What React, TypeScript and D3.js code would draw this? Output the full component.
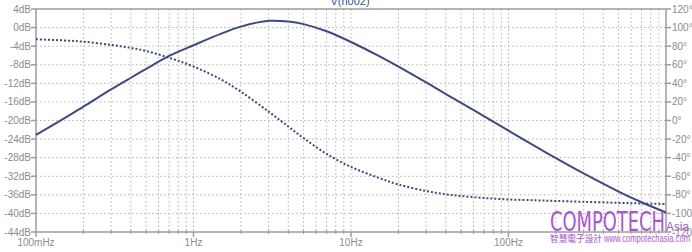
import React from "react";
import * as d3 from "d3";

const freqs = [0.1, 0.15, 0.2, 0.3, 0.4, 0.5, 0.7, 1, 1.5, 2, 3, 4, 5, 7, 10, 15, 20, 30, 40, 50, 70, 100, 150, 200, 300, 500, 700, 1000];
const magDb = [-23.1, -19.6, -17.0, -13.3, -10.8, -8.9, -6.1, -3.8, -1.3, 0.2, 1.45, 1.3, 0.75, -0.8, -3.1, -6.1, -8.4, -11.8, -14.3, -16.2, -19.1, -22.2, -25.7, -28.1, -31.4, -35.3, -37.6, -39.8];
const phaseDeg = [87.4, 86.2, 84.8, 81.4, 78.1, 74.8, 67.5, 58.1, 44.0, 31.0, 9.5, -6.5, -19.0, -36.0, -50.0, -61.7, -68.9, -75.9, -79.4, -81.2, -83.4, -85.0, -85.9, -86.6, -87.5, -88.6, -89.3, -89.9];

const dbTicks = [4, 0, -4, -8, -12, -16, -20, -24, -28, -32, -36, -40, -44];
const degTicks = [120, 100, 80, 60, 40, 20, 0, -20, -40, -60, -80, -100, -120];
const decadeTicks = [0.1, 1, 10, 100];
const decadeLabels = ["100mHz", "1Hz", "10Hz", "100Hz"];
const title = "V(n002)";

export default function App() {
  const W = 692, H = 252;
  const x0 = 36, x1 = 666, yTop = 9, yBot = 232;
  const x = d3.scaleLog().domain([0.1, 1000]).range([x0, x1]);
  const yL = d3.scaleLinear().domain([-44, 4]).range([yBot, yTop]);
  const yR = d3.scaleLinear().domain([-120, 120]).range([yBot, yTop]);

  const magLine = d3.line<number>().x((_, i) => x(freqs[i])).y((d) => yL(d)).curve(d3.curveCatmullRom.alpha(0.5));
  const phLine = d3.line<number>().x((_, i) => x(freqs[i])).y((d) => yR(d)).curve(d3.curveCatmullRom.alpha(0.5));

  const minor: number[] = [];
  [0.1, 1, 10, 100].forEach((dec) => {
    for (let m = 2; m <= 9; m++) minor.push(dec * m);
  });
  const vGrid = [...minor, 1, 10, 100];

  const gridColor = "#b4b4b4";
  const axisColor = "#9c9c9c";
  const labelColor = "#8c8c8c";
  const lineColor = "#3c4a86";
  const wm = "#9d47d2";
  const font = "'Liberation Sans', Arial, sans-serif";

  return (
    <svg width={W} height={H} style={{ position: "absolute", left: 0, top: 0, background: "#fff" }}>
      <rect width={W} height={H} fill="#fff" />
      {vGrid.map((f, i) => (
        <line key={"v" + i} x1={x(f)} x2={x(f)} y1={yTop} y2={yBot} stroke={gridColor} strokeWidth={1} strokeDasharray="1.5,2.5" />
      ))}
      {dbTicks.slice(1, -1).map((v, i) => (
        <line key={"h" + i} x1={x0} x2={x1} y1={yL(v)} y2={yL(v)} stroke={gridColor} strokeWidth={1} strokeDasharray="1.5,2.5" />
      ))}
      <rect x={x0} y={yTop} width={x1 - x0} height={yBot - yTop} fill="none" stroke={axisColor} strokeWidth={1.5} />
      {dbTicks.map((v, i) => (
        <g key={"l" + i}>
          <line x1={x0 - 5} x2={x0} y1={yL(v)} y2={yL(v)} stroke={axisColor} strokeWidth={1.5} />
          <text x={x0 - 5} y={yL(v) + 3.5} textAnchor="end" fontSize={10} fontFamily={font} fill={labelColor}>{`${v}dB`}</text>
        </g>
      ))}
      {degTicks.map((v, i) => (
        <g key={"r" + i}>
          <line x1={x1} x2={x1 + 5} y1={yR(v)} y2={yR(v)} stroke={axisColor} strokeWidth={1.5} />
          <text x={x1 + 6} y={yR(v) + 3.5} textAnchor="start" fontSize={10} fontFamily={font} fill={labelColor}>{`${v}°`}</text>
        </g>
      ))}
      {minor.map((f, i) => (
        <line key={"m" + i} x1={x(f)} x2={x(f)} y1={yBot - 2} y2={yBot + 2} stroke={axisColor} strokeWidth={1} />
      ))}
      {decadeTicks.map((f, i) => (
        <g key={"d" + i}>
          <line x1={x(f)} x2={x(f)} y1={yBot} y2={yBot + 5} stroke={axisColor} strokeWidth={1.5} />
          <text x={x(f)} y={yBot + 14} textAnchor="middle" fontSize={10} fontFamily={font} fill={labelColor}>{decadeLabels[i]}</text>
        </g>
      ))}
      <text x={350} y={5} textAnchor="middle" fontSize={11} fontFamily={font} fill="#3050a8">{title}</text>
      <path d={phLine(phaseDeg) || ""} fill="none" stroke={lineColor} strokeWidth={2} strokeDasharray="2,2" />
      <path d={magLine(magDb) || ""} fill="none" stroke={lineColor} strokeWidth={2} />
      <text x={550} y={231} fontSize={27} fontFamily="'Liberation Sans Narrow', 'DejaVu Sans Condensed', sans-serif" fill={wm} opacity={0.9} textLength={115} lengthAdjust="spacingAndGlyphs">COMPOTECH</text>
      <text x={666} y={231} fontSize={12} fontFamily={font} fill={wm} opacity={0.9} textLength={23} lengthAdjust="spacingAndGlyphs">Asia</text>
      <text x={550} y={242} fontSize={9.5} fontFamily="'Noto Sans CJK TC', sans-serif" fill={wm} opacity={0.9} textLength={52} lengthAdjust="spacingAndGlyphs">智慧電子設計</text>
      <text x={604} y={242} fontSize={10} fontFamily={font} fill={wm} opacity={0.9} textLength={86} lengthAdjust="spacingAndGlyphs">www.compotechasia.com</text>
    </svg>
  );
}
